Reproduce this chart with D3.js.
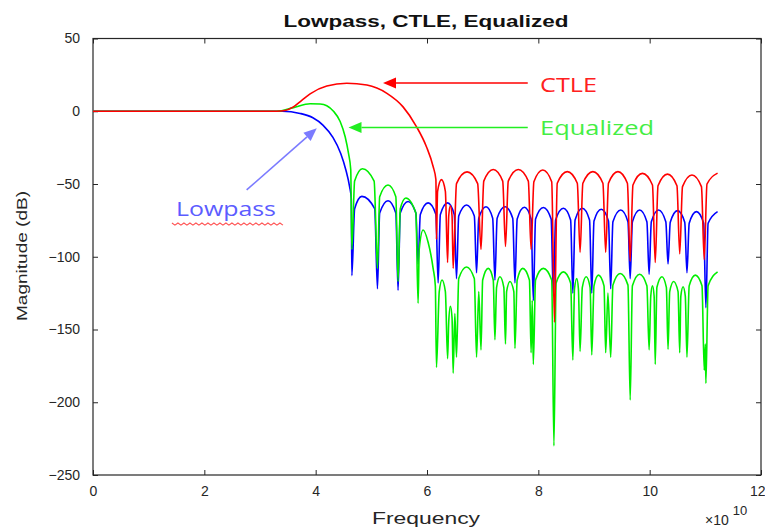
<!DOCTYPE html>
<html><head><meta charset="utf-8">
<script src="https://cdn.jsdelivr.net/npm/d3@7"></script>
<style>body{margin:0;background:#fff}svg{display:block}</style>
</head><body>
<svg id="chart" width="765" height="527"></svg>
<script>
// ---------- data (frequency in units of 1e10 Hz, magnitude in dB) ----------
const title = "Lowpass, CTLE, Equalized";
const xLabel = "Frequency";
const yLabel = "Magnitude (dB)";
const xTicks = [0, 2, 4, 6, 8, 10, 12];
const yTicks = [50, 0, -50, -100, -150, -200, -250];
const seriesNames = ["Lowpass", "CTLE", "Equalized"];

const lowpass = [
[0,0],[3.40,0],[3.72,-1.5],[3.95,-4.5],[4.13,-9.5],[4.31,-18],[4.45,-29],[4.54,-40],[4.61,-52],[4.64,-60],
[4.65,-113],[4.70,-67],[4.83,-58.5],[5.06,-67],[5.11,-122],
[5.15,-70],[5.30,-61.5],[5.44,-70],[5.48,-123],
[5.52,-70],[5.66,-62],[5.80,-70],[5.84,-105],
[5.88,-71],[6.02,-63],[6.16,-71],[6.20,-118],
[6.24,-71],[6.37,-63],[6.49,-71],[6.53,-115],
[6.57,-72],[6.71,-64.4],[6.85,-72],[6.89,-111],
[6.93,-73.5],[7.06,-65.6],[7.18,-73.5],[7.22,-116],
[7.26,-73.5],[7.40,-65.6],[7.54,-73.5],[7.58,-118],
[7.62,-74],[7.75,-66],[7.87,-74],[7.91,-130],
[7.95,-74],[8.09,-66.1],[8.23,-74],[8.27,-127],
[8.31,-74.7],[8.45,-66.7],[8.58,-74.7],[8.62,-125],
[8.66,-74.7],[8.79,-66.7],[8.92,-74.7],[8.96,-125],
[9.00,-75.4],[9.13,-67.4],[9.26,-75.4],[9.30,-122],
[9.34,-76],[9.48,-67.9],[9.61,-76],[9.65,-115],
[9.69,-76],[9.82,-67.9],[9.95,-76],[9.99,-112],
[10.03,-76],[10.16,-67.9],[10.29,-76],[10.33,-105],
[10.37,-76.3],[10.50,-68.3],[10.63,-76.3],[10.67,-111],
[10.71,-77],[10.84,-69],[10.97,-77],[11.01,-135],
[11.05,-77],[11.22,-69]
];

const ctle = [
[0,0],[3.30,0],[3.45,0.5],[3.60,3],[3.75,7.5],[3.90,12],[4.20,17.4],[4.56,19.2],[4.92,18],[5.28,12.3],[5.57,3],[5.81,-10.5],[5.99,-24.4],[6.11,-38],[6.16,-47],
[6.17,-88],[6.19,-55],[6.26,-47],[6.33,-55],[6.37,-104],
[6.39,-72],[6.42,-65],[6.45,-72],[6.47,-108],
[6.53,-49.7],[6.72,-41.7],[6.91,-49.7],[6.97,-95],
[7.02,-48],[7.19,-40],[7.36,-48],[7.41,-93],
[7.46,-48],[7.64,-40],[7.82,-48],[7.87,-95],
[7.92,-48.4],[8.08,-40.4],[8.24,-48.4],[8.29,-145],
[8.34,-49.5],[8.52,-41.5],[8.70,-49.5],[8.75,-97],
[8.80,-49.5],[8.98,-41.5],[9.16,-49.5],[9.21,-97],
[9.26,-49.5],[9.43,-41.5],[9.60,-49.5],[9.65,-103],
[9.70,-50.7],[9.87,-42.7],[10.05,-50.7],[10.10,-104],
[10.15,-51.2],[10.32,-43.2],[10.49,-51.2],[10.54,-98],
[10.59,-51.8],[10.76,-43.8],[10.93,-51.8],[10.98,-102],
[11.03,-50],[11.22,-42.5]
];

const equalized = [
[0,0],[3.30,0],[3.60,2.5],[3.90,5.2],[4.08,5],[4.20,3.8],[4.32,0],[4.44,-7],[4.53,-17.5],[4.59,-29],[4.63,-40],
[4.65,-95],[4.70,-48],[4.84,-39.5],[5.05,-48],[5.11,-108],
[5.15,-58.7],[5.30,-50.7],[5.44,-58.7],[5.48,-117],
[5.52,-67],[5.62,-59.6],[5.80,-70],[5.84,-132],
[5.86,-95],[5.93,-81.6],[6.02,-90],[6.11,-108],[6.15,-120],[6.17,-176],
[6.22,-124],[6.27,-116],[6.33,-124],[6.37,-170],
[6.39,-145],[6.42,-134],[6.45,-142],[6.47,-180],
[6.50,-139],[6.53,-169],
[6.57,-115],[6.71,-107],[6.85,-115],[6.89,-169],
[6.93,-124],[6.97,-164],
[7.00,-116],[7.10,-108],[7.19,-116],[7.22,-157],
[7.25,-121],[7.31,-113.7],[7.38,-121],[7.41,-160],
[7.43,-124],[7.49,-117],[7.56,-124],[7.58,-163],
[7.62,-116],[7.72,-108],[7.84,-116],[7.87,-166],
[7.89,-130],[7.91,-174],
[7.95,-116],[8.09,-108],[8.24,-116],[8.28,-230],
[8.32,-118],[8.45,-110.4],[8.58,-118],[8.62,-171],
[8.65,-122],[8.69,-115],[8.72,-122],[8.75,-165],
[8.79,-121],[8.86,-113.7],[8.93,-121],[8.96,-167.5],
[9.00,-120],[9.08,-112.6],[9.18,-120],[9.21,-166],
[9.25,-125],[9.30,-169],
[9.34,-119.5],[9.47,-111.5],[9.61,-119.5],[9.65,-198.5],
[9.69,-120],[9.82,-112],[9.95,-120],[9.99,-164],
[10.02,-127],[10.05,-120],[10.08,-127],[10.10,-174],
[10.13,-121],[10.22,-113.7],[10.30,-121],[10.33,-163.6],
[10.36,-124],[10.43,-117],[10.51,-124],[10.54,-166],
[10.56,-127],[10.60,-120.6],[10.64,-127],[10.67,-169],
[10.71,-120],[10.82,-112.6],[10.94,-120],[10.98,-178],
[11.00,-160],[11.01,-187],
[11.05,-120],[11.22,-110.4]
];

// ---------- layout ----------
const plot = {left: 93, right: 761, top: 38.5, bottom: 475};
const svg = d3.select("#chart");
const x = d3.scaleLinear().domain([0, 12]).range([plot.left, plot.right]);
const y = d3.scaleLinear().domain([-250, 50]).range([plot.bottom, plot.top]);
const axisColor = "#262626";
const font = "'Liberation Sans', Arial, sans-serif";

svg.append("defs").append("clipPath").attr("id", "clip")
  .append("rect").attr("x", plot.left).attr("y", plot.top)
  .attr("width", plot.right - plot.left).attr("height", plot.bottom - plot.top);

function styleAxis(g) {
  g.select(".domain").remove();
  g.selectAll(".tick line").attr("stroke", axisColor);
  g.selectAll(".tick text").attr("fill", "#262626").attr("font-family", font).attr("font-size", 14);
}
const bottomAxis = svg.append("g").attr("transform", `translate(0,${plot.bottom})`)
  .call(d3.axisBottom(x).tickValues(xTicks).tickFormat(d3.format("d")).tickSizeInner(-5).tickSizeOuter(0).tickPadding(11))
  .call(styleAxis);
// last label sits at the window edge: keep it fully inside
bottomAxis.selectAll(".tick text").filter(d => d === xTicks[xTicks.length - 1])
  .attr("text-anchor", "end").attr("dx", 4);
svg.append("g").attr("transform", `translate(0,${plot.top})`)
  .call(d3.axisTop(x).tickValues(xTicks).tickFormat("").tickSizeInner(-5).tickSizeOuter(0))
  .call(styleAxis);
svg.append("g").attr("transform", `translate(${plot.left},0)`)
  .call(d3.axisLeft(y).tickValues(yTicks).tickFormat(d3.format("d")).tickSizeInner(-5).tickSizeOuter(0).tickPadding(13))
  .call(styleAxis);
svg.append("g").attr("transform", `translate(${plot.right},0)`)
  .call(d3.axisRight(y).tickValues(yTicks).tickFormat("").tickSizeInner(-5).tickSizeOuter(0))
  .call(styleAxis);

svg.append("rect").attr("x", plot.left).attr("y", plot.top)
  .attr("width", plot.right - plot.left).attr("height", plot.bottom - plot.top)
  .attr("fill", "none").attr("stroke", axisColor).attr("stroke-width", 1.2);

const line = d3.line().x(d => x(d[0])).y(d => y(d[1])).curve(d3.curveMonotoneX);
const curves = svg.append("g").attr("clip-path", "url(#clip)");
[[lowpass, "#0000ff"], [equalized, "#00ee00"], [ctle, "#ff0000"]].forEach(([data, color]) => {
  curves.append("path").datum(data).attr("d", line)
    .attr("fill", "none").attr("stroke", color).attr("stroke-width", 1.6)
    .attr("stroke-linejoin", "round");
});

svg.append("text").attr("x", 426).attr("y", 27).attr("text-anchor", "middle")
  .attr("font-family", font).attr("font-weight", "bold").attr("font-size", 17)
  .attr("fill", "#111").attr("textLength", 285).attr("lengthAdjust", "spacingAndGlyphs").text(title);
svg.append("text").attr("x", 426).attr("y", 524).attr("text-anchor", "middle")
  .attr("font-family", font).attr("font-size", 16).attr("fill", "#262626")
  .attr("textLength", 108).attr("lengthAdjust", "spacingAndGlyphs").text(xLabel);
svg.append("text").attr("transform", "translate(27,256) rotate(-90)").attr("text-anchor", "middle")
  .attr("font-family", font).attr("font-size", 15).attr("fill", "#262626")
  .attr("textLength", 130).attr("lengthAdjust", "spacingAndGlyphs").text(yLabel);
const expo = svg.append("text").attr("x", 705).attr("y", 525)
  .attr("font-family", font).attr("font-size", 14).attr("fill", "#262626");
expo.append("tspan").text("\u00d710");
expo.append("tspan").attr("dy", -10).attr("dx", 4).attr("font-size", 13).text("10");

const annFont = "'Open Sans', 'Noto Sans', sans-serif";
function arrow(from, to, color, width) {
  const x1 = x(from[0]), y1 = y(from[1]), x2 = x(to[0]), y2 = y(to[1]);
  const ang = Math.atan2(y2 - y1, x2 - x1);
  const L = 13, hw = 5.5;
  const bx = x2 - L * Math.cos(ang), by = y2 - L * Math.sin(ang);
  svg.append("line").attr("x1", x1).attr("y1", y1).attr("x2", bx).attr("y2", by)
    .attr("stroke", color).attr("stroke-width", width);
  const p = d3.path();
  p.moveTo(x2, y2);
  p.lineTo(bx + hw * Math.sin(ang), by - hw * Math.cos(ang));
  p.lineTo(bx - hw * Math.sin(ang), by + hw * Math.cos(ang));
  p.closePath();
  svg.append("path").attr("d", p.toString()).attr("fill", color);
}
arrow([7.81, 19.4], [5.21, 19.4], "#ff0000", 1.6);
arrow([7.81, -11.2], [4.59, -11.2], "#22ee22", 1.6);
arrow([2.76, -54.1], [4.02, -11.7], "#7b7bff", 1.6);

function label(text, fx, fy, color, len) {
  return svg.append("text").attr("x", x(fx)).attr("y", y(fy))
    .attr("font-family", annFont).attr("font-size", 20).attr("fill", color)
    .attr("textLength", len).attr("lengthAdjust", "spacingAndGlyphs").text(text);
}
label(seriesNames[1], 8.03, 13.2, "#ff2020", 57);
label(seriesNames[2], 8.03, -16.3, "#44ee44", 114);
const lp = label(seriesNames[0], 1.49, -72.3, "#5c5cff", 100);

const bb = lp.node().getBBox();
const wy = y(-72.3) + 6.5;
const wave = d3.path();
wave.moveTo(bb.x - 4, wy);
for (let i = 0, xx = bb.x - 4; xx < bb.x + bb.width + 5; i++, xx += 3) {
  wave.lineTo(xx + 3, wy + (i % 2 === 0 ? 2.2 : 0));
}
svg.append("path").attr("d", wave.toString()).attr("fill", "none")
  .attr("stroke", "#ff5050").attr("stroke-width", 1.1);
</script>
</body></html>
